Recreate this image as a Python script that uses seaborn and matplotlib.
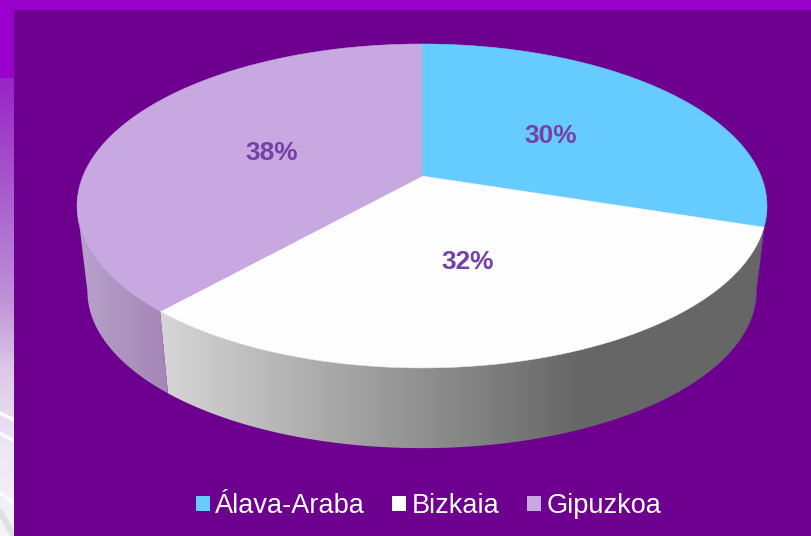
# Pie chart on a purple slide, drawn as a tilted 3D disc
import numpy as np
import matplotlib
matplotlib.use("Agg")
import matplotlib.pyplot as plt
import seaborn as sns
from matplotlib.colors import LinearSegmentedColormap
from matplotlib.patches import Patch, Polygon

# Data
categories = ["Álava-Araba", "Bizkaia", "Gipuzkoa"]
shares = [30, 31.6, 38.4]
labels = ["30%", "32%", "38%"]

# Colours
slice_colors = ["#66ccff", "#fdfdfd", "#c8a8e0"]
side_colors = [
    [(0, "#4a8fb0"), (1, "#3f7f9c")],
    [(0, "#d9d9d9"), (0.695, "#666666"), (1, "#666666")],
    [(0, "#b8a2ca"), (1, "#a385b6")],
]
side_extent = [(620, 770), (150, 770), (78, 170)]
strip_colors = [(0, "#9a00cc"), (0.141, "#9a00cc"), (0.143, "#9a22c9"), (0.37, "#a860cc"),
                (0.56, "#bf92d8"), (0.69, "#dcc8e8"), (0.84, "#eee7f5"), (1, "#f6f3f9")]

sns.set_theme(style="white")
plt.rcParams["font.family"] = ["Liberation Sans", "DejaVu Sans"]

# Disc geometry (perspective: back of the disc is compressed)
CX, CY, RX, RY, TILT = 422, 176, 339, 156.4, 0.185
DEPTH_SCALE, BOTTOM_CY = 0.97, 262
# the silhouette of the disc is widest here, the wall shows between these angles
WALL_START = np.arccos(-TILT)
WALL_END = 2 * np.pi - WALL_START
# small pixel nudges for the percent labels
LABEL_DX = [-1, -3, 3]


def project(angle, r=1.0, scale=1.0, cy=CY):
    u, v = r * np.sin(angle), r * np.cos(angle)
    w = 1 + TILT * v
    return CX + scale * RX * u / w, cy - scale * RY * v / w


fig = plt.figure(figsize=(8.12, 5.36), dpi=100)
ax = fig.add_axes([0, 0, 1, 1])
ax.axis("off")

# Background: slide strip on the left, dark panel over it
strip = LinearSegmentedColormap.from_list("strip", strip_colors)
ax.imshow(np.linspace(0, 1, 536)[:, None], cmap=strip, extent=(0, 812, 536, 0),
          aspect="auto", zorder=0)
ax.add_patch(plt.Rectangle((0, 0), 812, 10, color="#9a00cc", lw=0, zorder=1))
ax.plot([0, 14], [413, 420], color="white", lw=2.4, alpha=0.9, zorder=1)
ax.plot([0, 14], [433, 441], color="white", lw=2.6, alpha=0.9, zorder=1)
ax.plot([0, 14], [493, 503], color="white", lw=3, alpha=0.7, zorder=1)
ax.plot([0, 14], [512, 536], color="#dfdfdf", lw=4.5, alpha=0.9, zorder=1)
ax.add_patch(plt.Rectangle((14, 10), 798, 526, color="#6e0090", lw=0, zorder=1))

# Slice angles from the values, clockwise from the top
edges = np.concatenate([[0], np.cumsum(shares)]) / np.sum(shares) * 2 * np.pi

# Side walls first: only the arc facing the viewer is visible
for i, color in enumerate(slice_colors):
    a0, a1 = max(edges[i], WALL_START), min(edges[i + 1], WALL_END)
    if a1 <= a0:
        continue
    t = np.linspace(a0, a1, 160)
    top = np.column_stack(project(t))
    bottom = np.column_stack(project(t, scale=DEPTH_SCALE, cy=BOTTOM_CY))
    poly = Polygon(np.vstack([top, bottom[::-1]]), closed=True, fc="none", ec="none", zorder=2)
    ax.add_patch(poly)
    cmap = LinearSegmentedColormap.from_list(f"side{i}", side_colors[i])
    x0, x1 = side_extent[i]
    img = ax.imshow(np.linspace(0, 1, 256)[None, :], cmap=cmap, extent=(x0, x1, 536, 0),
                    aspect="auto", zorder=2)
    img.set_clip_path(poly)

# Top face
for i, color in enumerate(slice_colors):
    t = np.linspace(edges[i], edges[i + 1], 200)
    x, y = project(t)
    ax.fill(np.r_[CX, x], np.r_[CY, y], color=color, lw=0.4, zorder=3)

# Percent labels at half radius
for i, text in enumerate(labels):
    x, y = project((edges[i] + edges[i + 1]) / 2, r=0.5)
    ax.text(x + LABEL_DX[i], y + 3.5, text, color="#7540a8", fontsize=18.9, fontweight="bold",
            ha="center", va="center", zorder=4)

ax.set_xlim(0, 812)
ax.set_ylim(536, 0)

handles = [Patch(fc=c, ec="none") for c in slice_colors]
ax.legend(handles, categories, loc="center", bbox_to_anchor=(428.5 / 812, 1 - 506 / 536),
          ncol=3, frameon=False, fontsize=19.5, labelcolor="white",
          handlelength=0.52, handleheight=0.5, handletextpad=0.2, columnspacing=1.0)

fig.savefig("out.png", dpi=100)
